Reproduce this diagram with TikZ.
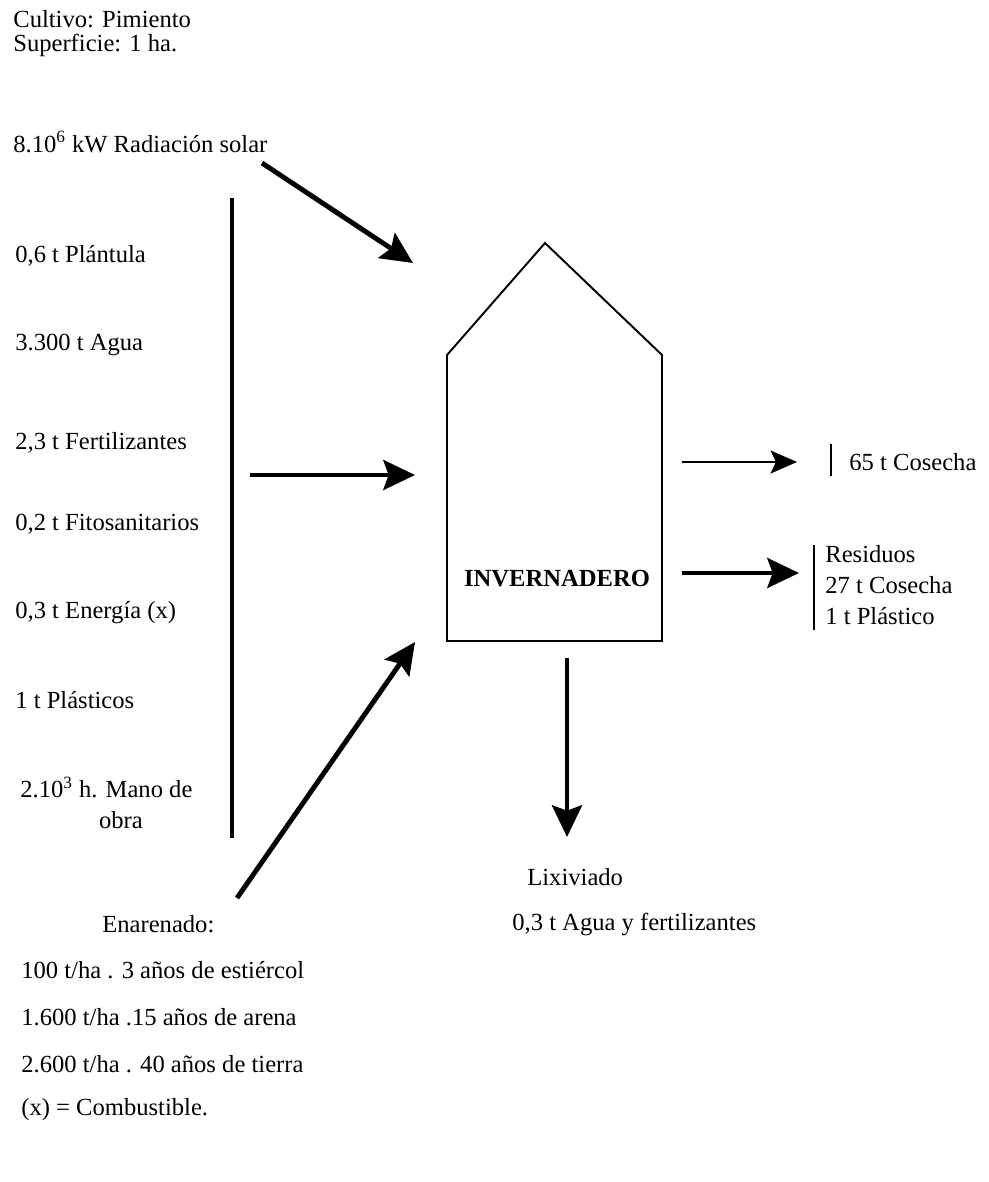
\documentclass[tikz,border=0pt]{standalone}
\usepackage{fontspec}
\setmainfont{Liberation Serif}
\usetikzlibrary{arrows.meta}

\tikzset{
  texto/.style={anchor=west, inner sep=0pt, font=\fontsize{14}{17.5}\selectfont},
  flujo/.style={line width=2.8pt, -{Stealth[length=18pt,width=17pt,inset=3pt]}},
  flujofino/.style={line width=1.6pt, -{Stealth[length=15pt,width=13pt,inset=3pt]}},
  barra/.style={line width=1.6pt},
}

\begin{document}
\begin{tikzpicture}[x=0.02cm, y=-0.02cm]
    \useasboundingbox (0,0) rectangle (988,1182);

    % cabecera
    \node[texto] (cultivo) at (13,19) {Cultivo: Pimiento};
    \node[texto] (superficie) at (13,45) {Superficie: 1 ha.};
    \node[texto] (radiacion) at (13,142) {8.10\textsuperscript{6} kW Radiación solar};

    % entradas
    \node[texto] (plantula) at (15,256) {0,6 t Plántula};
    \node[texto] (agua) at (15,345) {3.300 t Agua};
    \node[texto] (fert) at (15,443) {2,3 t Fertilizantes};
    \node[texto] (fito) at (15,524) {0,2 t Fitosanitarios};
    \node[texto] (energia) at (15,613) {0,3 t Energía (x)};
    \node[texto] (plasticos) at (15,700) {1 t Plásticos};
    \node[texto, align=left] (mano) at (20,803) {2.10\textsuperscript{3} h. Mano de\\\hspace*{3.2em}obra};
    \coordinate (barraA) at (232,198);
    \coordinate (barraB) at (232,838);
    \draw[line width=2.3pt] (barraA) -- (barraB);

    % invernadero
    \coordinate (casaSW) at (447,641);
    \coordinate (casaW) at (447,355);
    \coordinate (techo) at (545,243);
    \coordinate (casaE) at (662,355);
    \coordinate (casaSE) at (662,641);
    \draw[line width=1.1pt, line join=miter] (casaSW) -- (casaW) -- (techo) -- (casaE) -- (casaSE) -- cycle;
    \node[inner sep=0pt, font=\fontsize{14}{17}\selectfont\bfseries] (invernadero) at (557,579) {INVERNADERO};

    % flechas de entrada
    \coordinate (solA) at (262,163);
    \coordinate (solB) at (413,263);
    \draw[flujo] (solA) -- (solB);
    \coordinate (insA) at (250,475);
    \coordinate (insB) at (415,475);
    \draw[flujo] (insA) -- (insB);
    \coordinate (enaA) at (237,898);
    \coordinate (enaB) at (415,642);
    \draw[flujo] (enaA) -- (enaB);

    % salidas
    \coordinate (cosA) at (682,462);
    \coordinate (cosB) at (797,462);
    \draw[flujofino] (cosA) -- (cosB);
    \draw[barra] (831,444) -- (831,476);
    \node[texto] (cosecha) at (849,462) {65 t Cosecha};

    \coordinate (resA) at (682,573);
    \coordinate (resB) at (799,573);
    \draw[flujo] (resA) -- (resB);
    \draw[barra] (814,545) -- (814,630);
    \node[texto, align=left] (residuos) at (825,585) {Residuos\\27 t Cosecha\\1 t Plástico};

    \coordinate (lixA) at (567,658);
    \coordinate (lixB) at (567,837);
    \draw[flujo] (lixA) -- (lixB);
    \node[texto] (lixiviado) at (527,877) {Lixiviado};
    \node[texto] (lixagua) at (512,924) {0,3 t Agua y fertilizantes};

    % enarenado
    \node[texto] (enarenado) at (102,924) {Enarenado:};
    \node[texto] (estiercol) at (21,970) {100 t/ha . 3 años de estiércol};
    \node[texto] (arena) at (21,1017) {1.600 t/ha .15 años de arena};
    \node[texto] (tierra) at (21,1064) {2.600 t/ha . 40 años de tierra};
    \node[texto] (nota) at (21,1110) {(x) = Combustible.};
\end{tikzpicture}
\end{document}
